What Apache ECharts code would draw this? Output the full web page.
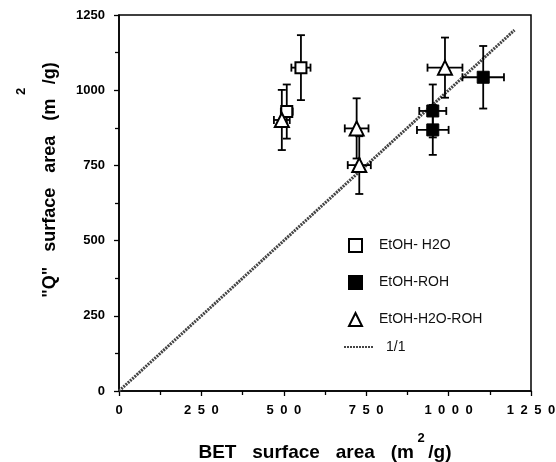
<!DOCTYPE html>
<html>
<head>
<meta charset="utf-8">
<script src="https://cdn.jsdelivr.net/npm/echarts@6/dist/echarts.min.js"></script>
<style>html,body{margin:0;padding:0;background:#fff}#c{width:556px;height:462px}</style>
</head>
<body>
<div id="c"></div>
<script>
// EtOH- H2O (open squares)
const h2oX = [509, 552];
const h2oY = [929, 1075];
const h2oXErr = [18, 29];
const h2oYErr = [90, 108];
// EtOH-ROH (filled squares)
const rohX = [952, 952, 1105];
const rohY = [931, 868, 1043];
const rohXErr = [41, 48, 63];
const rohYErr = [88, 83, 104];
// EtOH-H2O-ROH (open triangles)
const mixX = [494, 721, 729, 989];
const mixY = [901, 873, 751, 1075];
const mixXErr = [24, 36, 35, 53];
const mixYErr = [100, 100, 96, 100];
// 1/1 line
const lineX = [0, 1200];
const lineY = [0, 1200];
const markerNames = ['EtOH- H2O', 'EtOH-ROH', 'EtOH-H2O-ROH'];
const lineName = '1/1';

const zip = (a, b) => a.map((v, i) => [v, b[i]]);
const zip4 = (a, b, c, d) => a.map((v, i) => [v, b[i], c[i], d[i]]);

function errRender(params, api) {
  const x = api.value(0), y = api.value(1), ex = api.value(2), ey = api.value(3);
  const l = api.coord([x - ex, y]), r = api.coord([x + ex, y]);
  const t = api.coord([x, y + ey]), b = api.coord([x, y - ey]);
  const cap = 4;
  const style = { stroke: '#000', lineWidth: 1.8 };
  const ln = (x1, y1, x2, y2) => ({ type: 'line', shape: { x1, y1, x2, y2 }, style });
  return {
    type: 'group',
    children: [
      ln(l[0], l[1], r[0], r[1]),
      ln(l[0], l[1] - cap, l[0], l[1] + cap),
      ln(r[0], r[1] - cap, r[0], r[1] + cap),
      ln(t[0], t[1], b[0], b[1]),
      ln(t[0] - cap, t[1], t[0] + cap, t[1]),
      ln(b[0] - cap, b[1], b[0] + cap, b[1])
    ]
  };
}

const errSeries = (name, d) => ({
  name, type: 'custom', renderItem: errRender, data: d,
  encode: { x: 0, y: 1 }, z: 3, silent: true
});

const axisFont = { fontFamily: 'Liberation Sans, Arial, sans-serif', fontWeight: 'bold', color: '#000' };
const legendFont = { fontFamily: 'Liberation Sans, Arial, sans-serif', fontSize: 14, color: '#111' };

const chart = echarts.init(document.getElementById('c'));
chart.setOption({
  animation: false,
  backgroundColor: '#fff',
  grid: {
    left: 119, right: 25, top: 15, bottom: 71, show: true, borderColor: '#000', borderWidth: 1.5,
    containLabel: false, outerBoundsMode: 'none'
  },
  xAxis: {
    type: 'value', min: 0, max: 1250, interval: 250,
    splitLine: { show: false },
    axisLine: { lineStyle: { color: '#000', width: 1.5 } },
    axisTick: { inside: false, length: 5, lineStyle: { color: '#000', width: 1.3 } },
    minorTick: { show: true, splitNumber: 2, length: 4, lineStyle: { color: '#000', width: 1.3 } },
    axisLabel: Object.assign({ fontSize: 13, margin: 13, formatter: v => String(v).split('').join('\u2002') }, axisFont),
    name: '{a|BET   surface   area   (m}{s| 2 }{a|/g)}',
    nameLocation: 'middle', nameGap: 41,
    nameTextStyle: {
      rich: {
        a: Object.assign({ fontSize: 19, verticalAlign: 'bottom', lineHeight: 30 }, axisFont),
        s: Object.assign({ fontSize: 13, verticalAlign: 'top', lineHeight: 30 }, axisFont)
      }
    }
  },
  yAxis: {
    type: 'value', min: 0, max: 1250, interval: 250,
    splitLine: { show: false },
    axisLine: { lineStyle: { color: '#000', width: 1.5 } },
    axisTick: { inside: false, length: 5, lineStyle: { color: '#000', width: 1.3 } },
    minorTick: { show: true, splitNumber: 2, length: 4, lineStyle: { color: '#000', width: 1.3 } },
    axisLabel: Object.assign({ fontSize: 13, margin: 14, formatter: v => String(v) }, axisFont),
    name: '{p|}{a|"Q"   surface   area   (m}{s| 2 }{a|/g)}',
    nameLocation: 'middle', nameGap: 60, nameRotate: 90,
    nameTextStyle: {
      rich: {
        p: { width: 46, lineHeight: 44 },
        a: Object.assign({ fontSize: 18, verticalAlign: 'bottom', lineHeight: 44 }, axisFont),
        s: Object.assign({ fontSize: 13, verticalAlign: 'top', lineHeight: 44 }, axisFont)
      }
    }
  },
  legend: [
    {
      orient: 'vertical', left: 343, top: 233, itemGap: 22,
      itemWidth: 13, itemHeight: 13,
      textStyle: Object.assign({ padding: [0, 0, 0, 12] }, legendFont),
      data: markerNames
    },
    {
      orient: 'vertical', left: 338, top: 335,
      itemWidth: 30, itemHeight: 12,
      itemStyle: { opacity: 0 },
      textStyle: Object.assign({ padding: [0, 0, 0, 7] }, legendFont),
      data: [lineName]
    }
  ],
  series: [
    {
      name: lineName, type: 'line', data: zip(lineX, lineY), symbol: 'none', showSymbol: false, z: 2,
      lineStyle: { color: '#444', width: 3, type: [2, 1] }, itemStyle: { color: '#444' }
    },
    errSeries('e1', zip4(h2oX, h2oY, h2oXErr, h2oYErr)),
    errSeries('e2', zip4(rohX, rohY, rohXErr, rohYErr)),
    errSeries('e3', zip4(mixX, mixY, mixXErr, mixYErr)),
    {
      name: markerNames[0], type: 'scatter', data: zip(h2oX, h2oY), symbol: 'rect', symbolSize: 11, z: 5,
      itemStyle: { color: '#fff', borderColor: '#000', borderWidth: 2, opacity: 1 }
    },
    {
      name: markerNames[1], type: 'scatter', data: zip(rohX, rohY), symbol: 'rect', symbolSize: 12, z: 5,
      itemStyle: { color: '#000', borderColor: '#000', borderWidth: 1, opacity: 1 }
    },
    {
      name: markerNames[2], type: 'scatter', data: zip(mixX, mixY), symbol: 'triangle', symbolSize: 14, z: 5,
      itemStyle: { color: '#fff', borderColor: '#000', borderWidth: 2, opacity: 1 }
    }
  ]
});
</script>
</body>
</html>
